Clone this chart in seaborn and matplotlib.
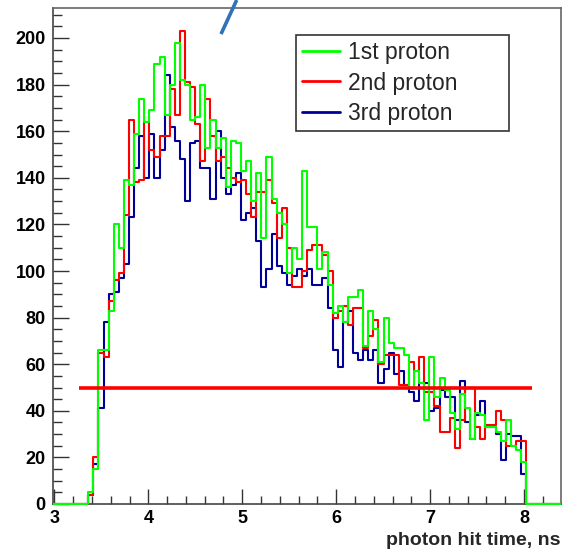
import numpy as np
import pandas as pd
import matplotlib
matplotlib.use("Agg")
import matplotlib.pyplot as plt
from matplotlib.lines import Line2D
from matplotlib.ticker import MultipleLocator
import seaborn as sns

# ---------------- data ----------------
first_bin_low = 3.361      # lower edge of first non-empty bin (ns)
bin_width = 0.0542         # ns
n_empty_before = 7
n_empty_after = 7

green_counts = [5, 15, 66, 66, 83, 120, 110, 139, 137, 159,
                174, 164, 169, 189, 192, 167, 180, 198, 182, 180,
                165, 166, 180, 153, 165, 153, 157, 136, 156, 155,
                143, 147, 130, 142, 114, 149, 131, 125, 120, 99,
                110, 105, 143, 119, 119, 101, 108, 94, 82, 85,
                78, 89, 89, 92, 68, 83, 75, 61, 80, 69,
                67, 67, 64, 50, 57, 52, 36, 63, 46, 54,
                49, 39, 32, 47, 41, 28, 39, 38, 33, 33,
                31, 27, 36, 25, 23, 18]
red_counts = [4, 20, 65, 63, 87, 96, 99, 124, 165, 138,
              139, 164, 152, 149, 158, 158, 178, 167, 203, 181,
              179, 163, 147, 174, 158, 147, 149, 144, 140, 138,
              139, 133, 123, 134, 134, 139, 129, 114, 127, 110,
              93, 93, 100, 109, 111, 111, 107, 100, 80, 83,
              85, 77, 84, 84, 67, 72, 79, 60, 64, 64,
              64, 51, 51, 61, 57, 63, 48, 48, 42, 31,
              31, 37, 24, 36, 50, 50, 33, 28, 34, 34,
              40, 36, 25, 25, 27, 27]
blue_counts = [4, 17, 41, 78, 90, 91, 97, 103, 123, 144,
               158, 140, 159, 140, 152, 184, 162, 156, 148, 130,
               155, 156, 144, 144, 131, 160, 140, 133, 137, 142,
               122, 125, 127, 113, 93, 101, 116, 102, 99, 94,
               98, 101, 98, 101, 94, 94, 97, 84, 66, 59,
               78, 83, 65, 62, 66, 62, 66, 52, 58, 65,
               56, 57, 51, 48, 44, 52, 52, 40, 41, 49,
               46, 46, 36, 53, 35, 28, 38, 44, 33, 33,
               30, 19, 30, 29, 29, 13]

series_names = ["1st proton", "2nd proton", "3rd proton"]
series_colors = ["#00ff00", "#ff0000", "#000099"]

threshold_value = 50
threshold_x = [3.26, 8.08]
pointer_x = [4.774, 4.941]
pointer_y = [201.7, 216.3]

x_ticks = [3, 4, 5, 6, 7, 8]
y_ticks = [0, 20, 40, 60, 80, 100, 120, 140, 160, 180, 200]
x_label = "photon hit time, ns"

# ---------------- build ----------------
n_data = len(green_counts)
n_bins = n_empty_before + n_data + n_empty_after
edges = first_bin_low + bin_width * (np.arange(n_bins + 1) - n_empty_before)
centers = 0.5 * (edges[:-1] + edges[1:])

def pad(c):
    return np.concatenate([np.zeros(n_empty_before), np.asarray(c, float),
                           np.zeros(n_empty_after)])

W, H = 562, 551
sns.set_style("white")
plt.rcParams["font.family"] = ["Liberation Sans", "DejaVu Sans"]
fig = plt.figure(figsize=(W / 100, H / 100), dpi=100)

ax_left, ax_right, ax_top, ax_bottom = 52.7, 560.5, 8.0, 504.0
ax = fig.add_axes([ax_left / W, 1 - ax_bottom / H,
                   (ax_right - ax_left) / W, (ax_bottom - ax_top) / H])

x0 = 3 - (54.4 - ax_left) / 93.92
x1 = 8 + (ax_right - 524.0) / 93.92

draw_order = [2, 1, 0]
all_counts = [green_counts, red_counts, blue_counts]
for i in draw_order:
    df = pd.DataFrame({"t": centers, "n": pad(all_counts[i])})
    sns.histplot(data=df, x="t", weights="n", bins=list(edges),
                 element="step", fill=False, color=series_colors[i],
                 linewidth=1.5, ax=ax, zorder=3 + (2 - i))

# empty-bin baseline of the last drawn histogram
data_lo = edges[n_empty_before]
data_hi = edges[n_empty_before + n_data]
for seg in ([x0, data_lo], [data_hi, x1]):
    ax.plot(seg, [0, 0], color=series_colors[0], lw=1.5, clip_on=False,
            zorder=8, solid_capstyle="butt")

ax.plot(threshold_x, [threshold_value, threshold_value], color="#ff0000",
        lw=2.6, zorder=6, solid_capstyle="butt")
ax.plot(pointer_x, pointer_y, color="#3072b8", lw=2.6, clip_on=False,
        zorder=7, solid_capstyle="butt")

ax.set_xlim(x0, x1)
ax.set_ylim(0, (ax_bottom - ax_top) / 2.33)

ax.set_xticks(x_ticks)
ax.set_yticks(y_ticks)
ax.xaxis.set_minor_locator(MultipleLocator(0.2))
ax.yaxis.set_minor_locator(MultipleLocator(5))
ax.tick_params(axis="both", which="both", direction="in", colors="#333333",
               top=False, right=False, bottom=True, left=True)
ax.tick_params(axis="x", which="major", length=11, width=1, pad=4)
ax.tick_params(axis="x", which="minor", length=5.5, width=1)
ax.tick_params(axis="y", which="major", length=11.5, width=1, pad=5)
ax.tick_params(axis="y", which="minor", length=6.5, width=1)
for lab in ax.get_xticklabels() + ax.get_yticklabels():
    lab.set_fontweight("bold")
    lab.set_fontsize(13)
    lab.set_color("black")

ax.set_ylabel("")
ax.set_xlabel(x_label, fontsize=14, fontweight="bold", loc="right",
              labelpad=4)

for s in ["left", "bottom"]:
    ax.spines[s].set_color("#444444")
    ax.spines[s].set_linewidth(1.2)
for s in ["top", "right"]:
    ax.spines[s].set_color("#666666")
    ax.spines[s].set_linewidth(1.2)

handles = [Line2D([], [], color=c, lw=2) for c in series_colors]
bb_l = (296 - ax_left) / (ax_right - ax_left)
bb_r = (509 - ax_left) / (ax_right - ax_left)
bb_t = (ax_bottom - 35) / (ax_bottom - ax_top)
leg = ax.legend(handles, series_names, loc="upper left",
                bbox_to_anchor=(bb_l, bb_t, bb_r - bb_l, 0.0), mode="expand",
                fontsize=16.5, frameon=True, fancybox=False, framealpha=1,
                edgecolor="#333333", borderpad=0.25, labelspacing=0.34,
                handlelength=1.66, handletextpad=0.35, borderaxespad=0)
leg.get_frame().set_linewidth(1.2)
leg.set_zorder(10)

fig.savefig("out.png", dpi=100)
